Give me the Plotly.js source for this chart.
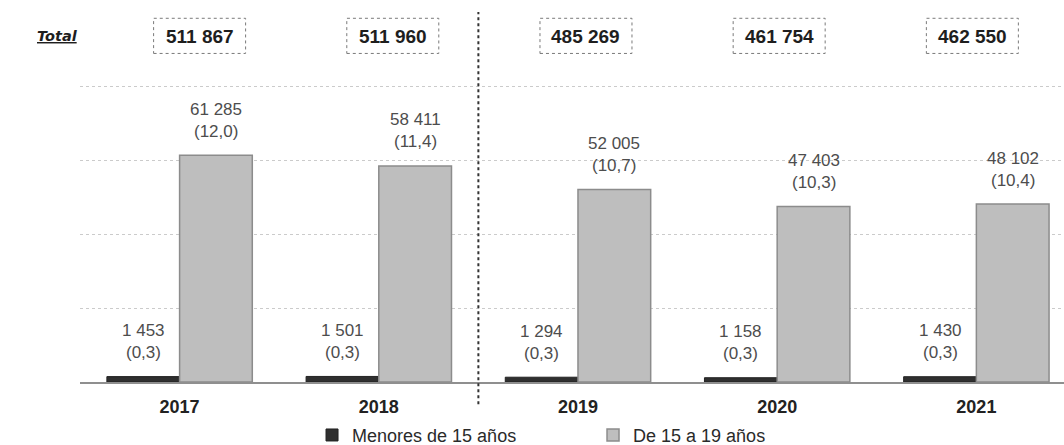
<!DOCTYPE html>
<html>
<head>
<meta charset="utf-8">
<script src="https://cdn.plot.ly/plotly-3.0.1.min.js"></script>
<style>html,body{margin:0;padding:0;background:#fff;}#chart{width:1064px;height:445px;}</style>
</head>
<body>
<div id="chart"></div>
<script>
// ---- data ----
const years = ["2017", "2018", "2019", "2020", "2021"];
const menores = [1453, 1501, 1294, 1158, 1430];
const menoresPct = ["0,3", "0,3", "0,3", "0,3", "0,3"];
const de15a19 = [61285, 58411, 52005, 47403, 48102];
const de15a19Pct = ["12,0", "11,4", "10,7", "10,3", "10,4"];
const totals = [511867, 511960, 485269, 461754, 462550];
const seriesNames = ["Menores de 15 años", "De 15 a 19 años"];

// ---- helpers ----
function fmt(n) { return String(n).replace(/\B(?=(\d{3})+(?!\d))/g, " "); }

const W = 1064, H = 445;
const margin = {l: 80, r: 0, t: 12, b: 63, autoexpand: false};
const xRange = [-0.5, 4.44];
const pxPerCat = (W - margin.l - margin.r) / (xRange[1] - xRange[0]);
const bargap = 0.27;
const barOff = (1 - bargap) / 4 * pxPerCat;
const FONT = "Liberation Sans, Arial, sans-serif";
const valFont = {family: FONT, size: 17, color: "#4d4d4d"};

const annotations = [];
years.forEach((y, i) => {
  [[menores[i], menoresPct[i], -barOff], [de15a19[i], de15a19Pct[i], barOff]].forEach(([v, p, off]) => {
    annotations.push({x: i, y: v, xref: "x", yref: "y", xshift: off, yshift: 46,
      yanchor: "middle", text: fmt(v), showarrow: false, font: valFont});
    annotations.push({x: i, y: v, xref: "x", yref: "y", xshift: off, yshift: 24,
      yanchor: "middle", text: "(" + p + ")", showarrow: false, font: valFont});
  });
  annotations.push({x: i, y: 0.935, xref: "x", yref: "paper", xshift: 20 - 6 * i,
    yanchor: "middle", text: "<b>" + fmt(totals[i]) + "</b>", showarrow: false,
    font: {family: FONT, size: 19, color: "#1e1e1e"}});
});
annotations.push({x: 0.0, y: 0.935, xref: "paper", yref: "paper", xanchor: "right",
  yanchor: "middle", text: "<b><i><u>Total</u></i></b>", showarrow: false,
  font: {family: "DejaVu Sans, sans-serif", size: 14.5, color: "#1e1e1e"}});

const shapes = [];
years.forEach((y, i) => {
  shapes.push({type: "rect", xref: "x", yref: "paper", xsizemode: "pixel", xanchor: i,
    x0: 20 - 6 * i - 46, x1: 20 - 6 * i + 46, y0: 0.888, y1: 0.983,
    line: {color: "#7a7a7a", width: 1, dash: "dot"}, fillcolor: "rgba(0,0,0,0)"});
});
shapes.push({type: "line", xref: "x", yref: "paper", x0: 1.5, x1: 1.5, y0: -0.06, y1: 1.0,
  line: {color: "#333", width: 2, dash: "dot"}});

const traces = [
  {type: "bar", name: seriesNames[0], x: years, y: menores,
   marker: {color: "#2f2f2f", line: {color: "#222", width: 1}}, hoverinfo: "none"},
  {type: "bar", name: seriesNames[1], x: years, y: de15a19,
   marker: {color: "#bebebe", line: {color: "#8c8c8c", width: 1.5}}, hoverinfo: "none"}
];

const layout = {
  width: W, height: H, margin: margin,
  paper_bgcolor: "#fff", plot_bgcolor: "#fff",
  barmode: "group", bargap: bargap, bargroupgap: 0,
  showlegend: true,
  legend: {orientation: "h", x: 0.2358, xanchor: "left", y: -0.144, yanchor: "middle",
    entrywidth: 236, entrywidthmode: "pixels", itemwidth: 30,
    font: {family: FONT, size: 18, color: "#2a2a2a"}},
  xaxis: {type: "category", range: xRange, showgrid: false, zeroline: false, automargin: false,
    showline: true, linecolor: "#8f8f8f", linewidth: 2, ticks: "", ticklabelstandoff: 7,
    tickfont: {family: FONT, size: 18, color: "#222", weight: "bold"}},
  yaxis: {range: [0, 99999], dtick: 20000, showticklabels: false, ticks: "", automargin: false,
    showgrid: true, gridcolor: "#cbcbcb", griddash: "dot", gridwidth: 1, zeroline: false},
  annotations: annotations,
  shapes: shapes,
  separators: ", "
};

Plotly.newPlot("chart", traces, layout, {displayModeBar: false, staticPlot: true});
</script>
</body>
</html>
